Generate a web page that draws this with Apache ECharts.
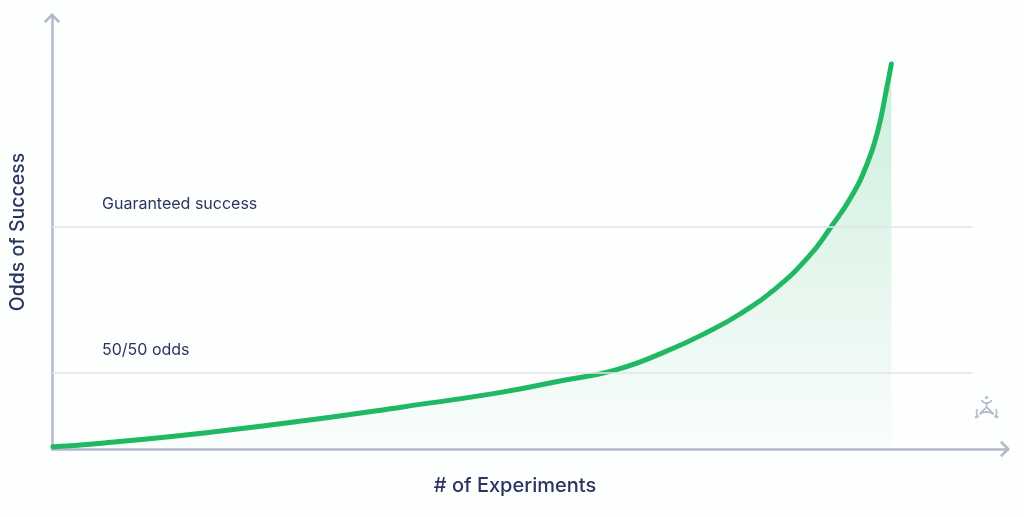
<!DOCTYPE html>
<html>
<head>
<meta charset="utf-8">
<script src="https://cdn.jsdelivr.net/npm/echarts@6/dist/echarts.min.js"></script>
<style>
html,body{margin:0;padding:0;background:#fdfefe;}
#chart{width:1024px;height:517px;}
</style>
</head>
<body>
<div id="chart"></div>
<script>
// Data (x: experiments scale 0-100, y: odds scale 0-100)
var experiments = [0.1, 5.5, 15.9, 26.3, 36.7, 47.1, 53.4, 58.6, 63.8, 69.0, 72.1, 75.5, 79.1, 81.5, 83.6, 85.3, 86.4, 87.3, 87.8];
var odds        = [0.5, 1.4, 3.7, 6.5, 9.7, 13.1, 15.8, 18.0, 22.1, 27.4, 31.3, 36.6, 44.2, 51.2, 58.1, 65.9, 73.5, 83.0, 88.7];
var refLabels = ['50/50 odds', 'Guaranteed success'];
var refValues = [17.5, 51.2];
var refEnd = 96.3;
var xName = '# of Experiments';
var yName = 'Odds of Success';

var curve = experiments.map(function (x, i) { return [x, odds[i]]; });
var chevron = 'path://M0,9 L9,0 L18,9 L16,11 L9,4 L2,11 Z';
var axisColor = '#b4b8cd';
var textColor = '#2b3560';

var markData = refValues.map(function (v, i) {
  return [{ coord: [0, v], name: refLabels[i] }, { coord: [refEnd, v] }];
});

var logoStroke = { stroke: axisColor, lineWidth: 1.6, fill: null };

var chart = echarts.init(document.getElementById('chart'));
chart.setOption({
  backgroundColor: '#fdfefe',
  animation: false,
  grid: { left: 47, right: 16, top: 15, bottom: 68 },
  xAxis: {
    type: 'value', min: 0, max: 100,
    name: xName, nameLocation: 'middle', nameGap: 27,
    nameTextStyle: { fontFamily: 'Inter', fontSize: 20, fontWeight: 500, color: textColor, padding: [0, 30, 0, 0] },
    axisLine: { show: true, lineStyle: { color: axisColor, width: 2.5 }, symbol: ['none', chevron], symbolSize: [17, 10], symbolOffset: [0, -3] },
    axisTick: { show: false }, axisLabel: { show: false }, splitLine: { show: false }
  },
  yAxis: {
    type: 'value', min: 0, max: 100,
    name: yName, nameLocation: 'middle', nameGap: 24, nameRotate: 90,
    nameTextStyle: { fontFamily: 'Inter', fontSize: 19.5, fontWeight: 500, color: textColor },
    axisLine: { show: true, lineStyle: { color: axisColor, width: 2.5 }, symbol: ['none', chevron], symbolSize: [17, 10], symbolOffset: [0, -3] },
    axisTick: { show: false }, axisLabel: { show: false }, splitLine: { show: false }
  },
  series: [{
    type: 'line',
    data: curve,
    smooth: 0.5,
    showSymbol: false,
    lineStyle: { color: '#21b863', width: 5, cap: 'round' },
    areaStyle: {
      color: {
        type: 'linear', x: 0, y: 0, x2: 0, y2: 1,
        colorStops: [
          { offset: 0, color: 'rgba(33,184,99,0.32)' },
          { offset: 1, color: 'rgba(33,184,99,0.02)' }
        ]
      }
    },
    markLine: {
      silent: true, symbol: ['none', 'none'],
      lineStyle: { color: '#e2e3eb', width: 1.5, type: 'solid' },
      label: {
        show: true, position: 'insideStartTop', formatter: '{b}',
        distance: [50, 15],
        fontFamily: 'Inter', fontSize: 16, color: textColor
      },
      data: markData
    },
    z: 3
  }],
  graphic: [{
    type: 'group', left: 974, top: 396,
    children: [
      { type: 'circle', shape: { cx: 11, cy: 1.5, r: 1.6 }, style: { fill: axisColor } },
      { type: 'bezierCurve', shape: { x1: 6, y1: 4, cpx1: 8, cpy1: 8, cpx2: 14, cpy2: 8, x2: 16, y2: 4 }, style: logoStroke },
      { type: 'line', shape: { x1: 11, y1: 7, x2: 11, y2: 11 }, style: logoStroke },
      { type: 'line', shape: { x1: 11, y1: 11, x2: 4, y2: 18 }, style: logoStroke },
      { type: 'line', shape: { x1: 11, y1: 11, x2: 18, y2: 18 }, style: logoStroke },
      { type: 'bezierCurve', shape: { x1: 4, y1: 18, cpx1: 8, cpy1: 15, cpx2: 14, cpy2: 15, x2: 18, y2: 18 }, style: logoStroke },
      { type: 'bezierCurve', shape: { x1: 2, y1: 13, cpx1: 0, cpy1: 16, cpx2: 1, cpy2: 19, x2: 3, y2: 21 }, style: logoStroke },
      { type: 'bezierCurve', shape: { x1: 20, y1: 13, cpx1: 22, cpy1: 16, cpx2: 21, cpy2: 19, x2: 19, y2: 21 }, style: logoStroke },
      { type: 'circle', shape: { cx: 0.5, cy: 21, r: 1.3 }, style: { fill: axisColor } },
      { type: 'circle', shape: { cx: 21.5, cy: 21, r: 1.3 }, style: { fill: axisColor } }
    ]
  }]
});
</script>
</body>
</html>
